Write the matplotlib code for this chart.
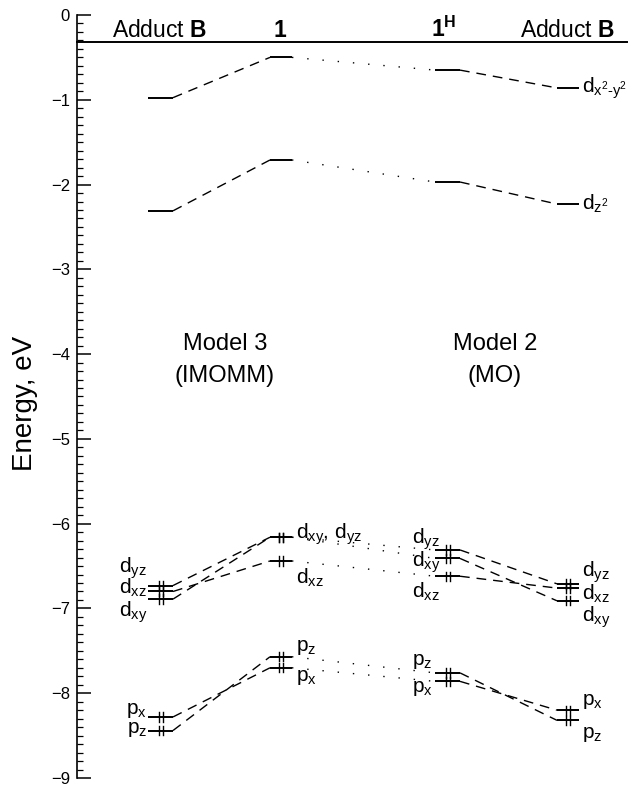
import matplotlib
matplotlib.use('Agg')
import matplotlib.pyplot as plt
from matplotlib.ticker import MultipleLocator

plt.rcParams['font.family'] = ['Liberation Sans', 'DejaVu Sans']
plt.rcParams['mathtext.fontset'] = 'custom'
plt.rcParams['mathtext.rm'] = 'Liberation Sans'
plt.rcParams['mathtext.it'] = 'Liberation Sans:italic'
plt.rcParams['mathtext.bf'] = 'Liberation Sans:bold'

# orbital energies (eV), same order in every column
orbitals = ['dx2-y2', 'dz2', 'dyz', 'dxz', 'dxy', 'px', 'pz']
occupied = [False, False, True, True, True, True, True]
e_adduct_imomm = [-0.975, -2.31, -6.73, -6.80, -6.89, -8.28, -8.44]
e_1 = [-0.50, -1.71, -6.16, -6.44, -6.16, -7.70, -7.57]
e_1h = [-0.65, -1.97, -6.31, -6.62, -6.41, -7.86, -7.76]
e_adduct_mo = [-0.86, -2.23, -6.71, -6.76, -6.91, -8.20, -8.32]

headers = [r'Adduct $\mathbf{B}$', r'$\mathbf{1}$', r'$\mathbf{1}^{\mathbf{H}}$', r'Adduct $\mathbf{B}$']
models = ['Model 3\n(IMOMM)', 'Model 2\n(MO)']

# level labels: (text, energy where the label sits)
lab_left = [(r'd$_{\mathrm{yz}}$', -6.52), (r'd$_{\mathrm{xz}}$', -6.76), (r'd$_{\mathrm{xy}}$', -7.04),
            (r'p$_{\mathrm{x}}$', -8.20), (r'p$_{\mathrm{z}}$', -8.43)]
lab_1 = [(r'd$_{\mathrm{xy}}$, d$_{\mathrm{yz}}$', -6.13), (r'd$_{\mathrm{xz}}$', -6.64),
         (r'p$_{\mathrm{z}}$', -7.46), (r'p$_{\mathrm{x}}$', -7.81)]
lab_1h = [(r'd$_{\mathrm{yz}}$', -6.18), (r'd$_{\mathrm{xy}}$', -6.46), (r'd$_{\mathrm{xz}}$', -6.80),
          (r'p$_{\mathrm{z}}$', -7.63), (r'p$_{\mathrm{x}}$', -7.94)]
lab_right = [(r'd$_{\mathrm{x^2\text{-}y^2}}$', -0.86), (r'd$_{\mathrm{z^2}}$', -2.23),
             (r'd$_{\mathrm{yz}}$', -6.57), (r'd$_{\mathrm{xz}}$', -6.83), (r'd$_{\mathrm{xy}}$', -7.10),
             (r'p$_{\mathrm{x}}$', -8.10), (r'p$_{\mathrm{z}}$', -8.49)]

# layout (x in pixel-like units)
W, H = 634, 785
spans = [(148, 173), (270, 292), (435, 460), (557, 579)]
header_x = [159, 280, 444, 567]
model_x = [225, 495]
columns = [e_adduct_imomm, e_1, e_1h, e_adduct_mo]
link_styles = [(0, (7, 5)), (0, (1, 10)), (0, (7, 5))]
LABEL_FS = 15

fig = plt.figure(figsize=(W / 100, H / 100), dpi=100)
ax = fig.add_axes([77 / W, 1 - 778 / H, (W - 77) / W, 763 / H])
ax.set_xlim(77, W)
ax.set_ylim(-9, 0)

for s in ['top', 'right', 'bottom']:
    ax.spines[s].set_visible(False)
ax.spines['left'].set_linewidth(1.2)
ax.set_xticks([])
ax.yaxis.set_major_locator(MultipleLocator(1))
ax.yaxis.set_minor_locator(MultipleLocator(0.1))
ax.tick_params(axis='y', which='major', direction='in', length=10, width=1.1, labelsize=12, pad=5)
ax.tick_params(axis='y', which='minor', direction='in', length=4.5, width=0.9)
fig.text(25 / W, 1 - 403 / H, 'Energy, eV', rotation=90, ha='center', va='center', fontsize=20)

# header line and column titles
ax.plot([77, 627], [-0.315, -0.315], color='black', lw=1.4, clip_on=False)
for x, h in zip(header_x, headers):
    ax.text(x, -0.255, h, ha='center', va='baseline', fontsize=16.5)

# levels with electron pairs
for (x0, x1), energies in zip(spans, columns):
    xm = (x0 + x1) / 2
    for e, occ in zip(energies, occupied):
        ax.plot([x0, x1], [e, e], color='black', lw=1.4, solid_capstyle='butt')
        if occ:
            for dx in (-2, 2):
                ax.plot([xm + dx, xm + dx], [e - 0.055, e + 0.055], color='black', lw=1.0)

# connectors between columns
for i, ls in enumerate(link_styles):
    xa = spans[i][1]
    xb = spans[i + 1][0]
    for ea, eb in zip(columns[i], columns[i + 1]):
        ax.plot([xa, xb], [ea, eb], color='black', lw=1.0, linestyle=ls)

# orbital labels
for txt, e in lab_left:
    ax.text(147, e, txt, ha='right', va='center', fontsize=LABEL_FS)
for txt, e in lab_1:
    ax.text(296, e, txt, ha='left', va='center', fontsize=LABEL_FS)
for txt, e in lab_1h:
    ax.text(412, e, txt, ha='left', va='center', fontsize=LABEL_FS)
for txt, e in lab_right:
    ax.text(582, e, txt, ha='left', va='center', fontsize=LABEL_FS)

for x, m in zip(model_x, models):
    ax.text(x, -4.07, m, ha='center', va='center', fontsize=17, linespacing=1.55)

fig.savefig('out.png', dpi=100)
